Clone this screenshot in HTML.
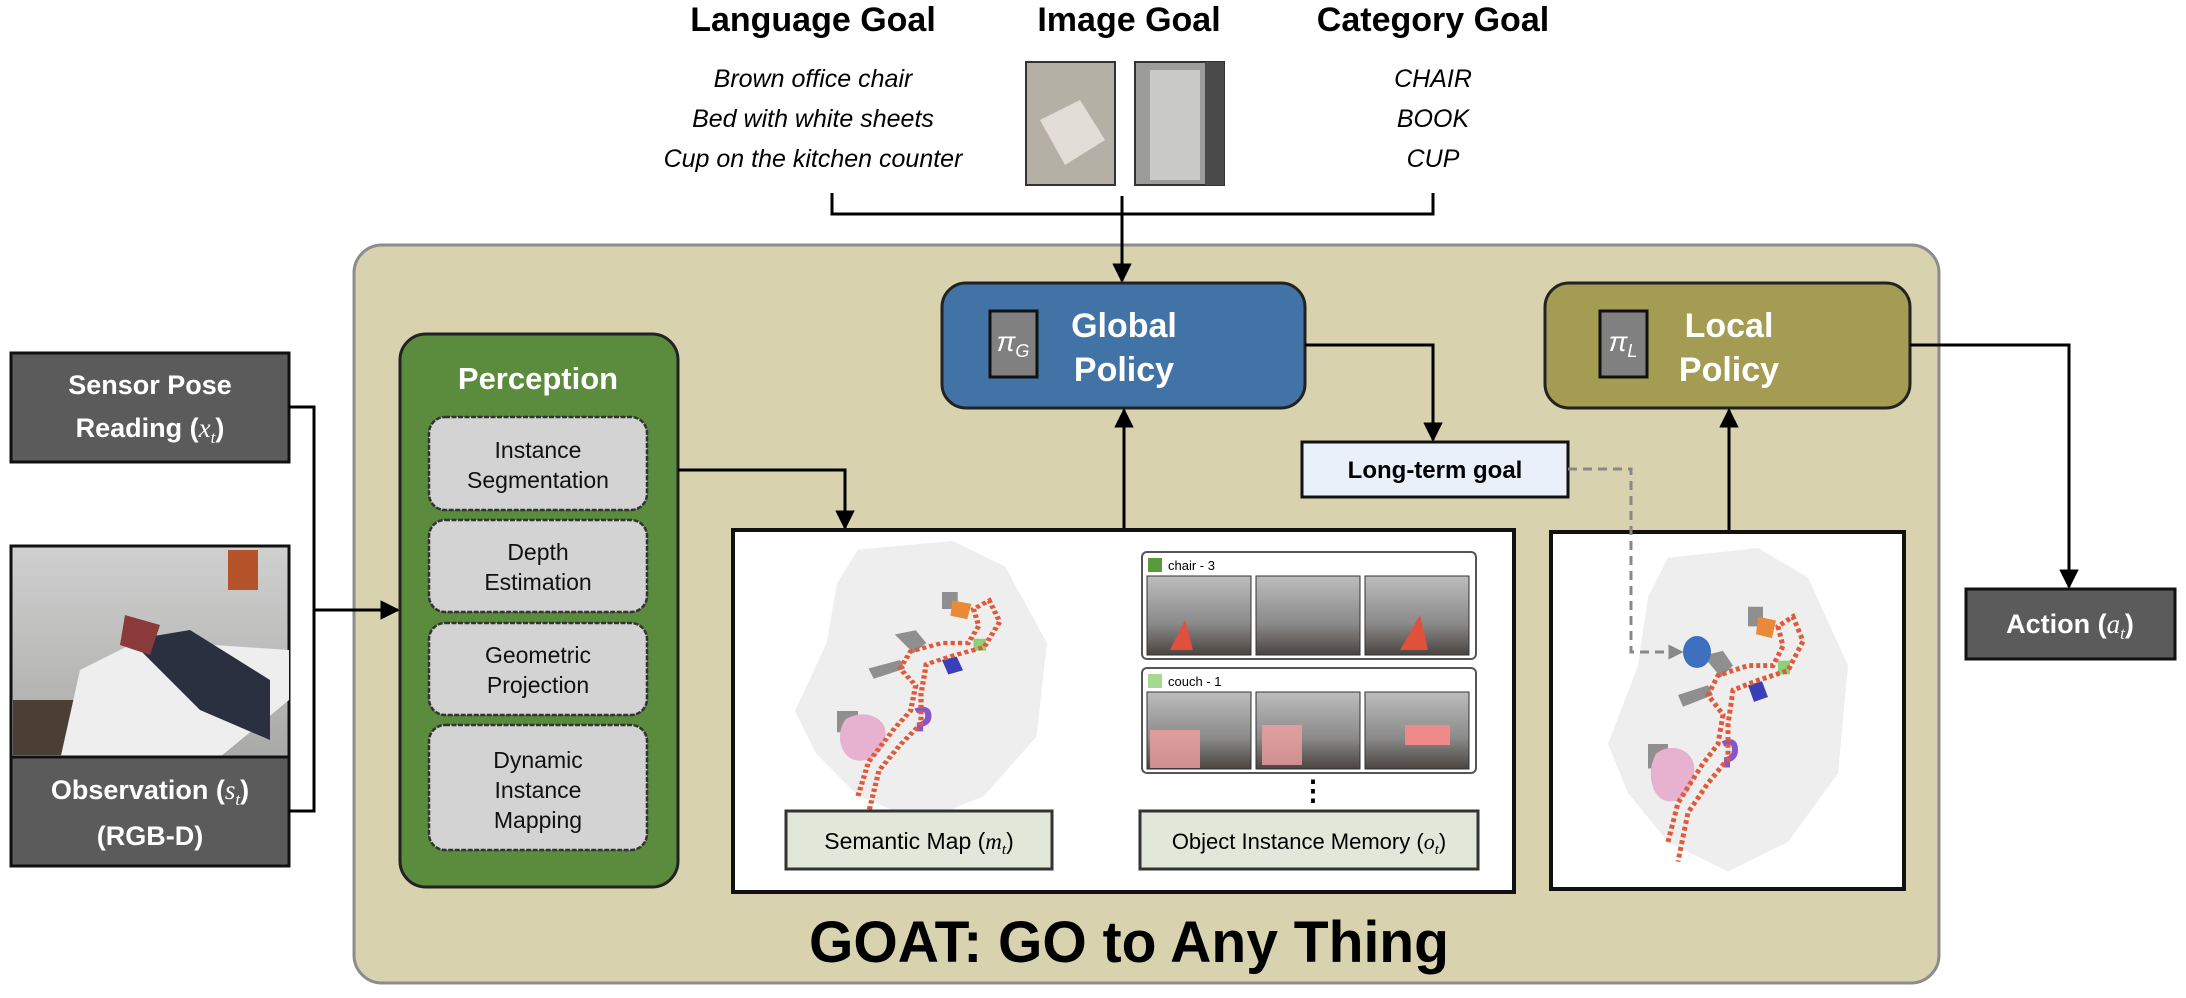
<!DOCTYPE html>
<html><head><meta charset="utf-8"><style>
html,body{margin:0;padding:0;background:#fff;}
svg{display:block;}
text{font-family:"Liberation Sans",Arial,sans-serif;}
</style></head><body>
<svg width="2186" height="998" viewBox="0 0 2186 998" xmlns="http://www.w3.org/2000/svg">
<defs>
<marker id="ah" viewBox="0 0 10 10" refX="9" refY="5" markerWidth="6.5" markerHeight="6.5" orient="auto"><path d="M0,0 L10,5 L0,10 z" fill="#000"/></marker>
<marker id="ahg" viewBox="0 0 10 10" refX="9" refY="5" markerWidth="5" markerHeight="5" orient="auto"><path d="M0,0 L10,5 L0,10 z" fill="#888"/></marker>
<linearGradient id="wall" x1="0" y1="0" x2="0" y2="1"><stop offset="0" stop-color="#cfd0cf"/><stop offset="1" stop-color="#a9aaa8"/></linearGradient>
<linearGradient id="room" x1="0" y1="0" x2="0" y2="1"><stop offset="0" stop-color="#bdbdbd"/><stop offset="0.6" stop-color="#8a8a8a"/><stop offset="1" stop-color="#4a4440"/></linearGradient>
<g id="map">
<path d="M60,10 L150,0 L200,30 L240,120 L230,230 L180,300 L120,330 L60,300 L20,250 L0,200 L30,120 L40,50 Z" fill="#eeeeee"/>
<path d="M95,110 l20,-5 l10,15 l-12,12 z M140,60 l15,0 l0,20 l-15,0z M40,200 l20,0 l0,25 l-20,0z M70,150 l30,-10 l5,10 l-30,12z" fill="#8f8f8f"/>
<path d="M150,70 l18,4 l-4,18 l-16,-4z" fill="#e88a3a"/>
<path d="M48,210 c15,-12 35,-5 38,12 c2,20 -10,40 -28,36 c-15,-4 -20,-30 -10,-48z" fill="#e7b2cf"/>
<path d="M140,140 l14,-4 l6,16 l-14,5z" fill="#3a3fb5"/>
<path d="M170,115 l12,0 l0,14 l-12,0z" fill="#8ed07a"/>
<path d="M115,200 q12,-6 12,6 q0,8 -8,10 l0,8" stroke="#8a55c8" stroke-width="6" fill="none"/>
<path d="M60,300 L70,260 L95,220 L110,200 L115,170 L100,150 L110,130 L140,120 L165,120 L175,100 L170,80 L185,70 L195,95 L180,125 L150,135 L125,145 L120,180 L120,215 L100,240 L80,270 L70,320" stroke="#e05a3a" stroke-width="5" stroke-dasharray="4 3" fill="none"/>
</g>
</defs>

<text x="813" y="31" font-size="34" font-weight="bold" text-anchor="middle">Language Goal</text>
<text x="1129" y="31" font-size="34" font-weight="bold" text-anchor="middle">Image Goal</text>
<text x="1433" y="31" font-size="34" font-weight="bold" text-anchor="middle">Category Goal</text>
<g font-size="25" font-style="italic" text-anchor="middle">
<text x="813" y="87">Brown office chair</text>
<text x="813" y="127">Bed with white sheets</text>
<text x="813" y="167">Cup on the kitchen counter</text>
<text x="1433" y="87">CHAIR</text>
<text x="1433" y="127">BOOK</text>
<text x="1433" y="167">CUP</text>
</g>
<rect x="1026" y="62" width="89" height="123" fill="#b5b0a6" stroke="#333" stroke-width="2"/>
<path d="M1040,120 l40,-20 l25,40 l-40,25z" fill="#e2ddd6"/>
<rect x="1135" y="62" width="89" height="123" fill="#9c9c9a" stroke="#333" stroke-width="2"/>
<rect x="1150" y="70" width="50" height="110" fill="#c9c9c7"/>
<rect x="1205" y="62" width="19" height="123" fill="#4a4a4a"/>

<path d="M832,193 L832,214 L1433,214 L1433,193" stroke="#000" stroke-width="3" fill="none"/>

<rect x="354" y="245" width="1585" height="738" rx="28" fill="#d8d3ae" stroke="#8c8c8c" stroke-width="3"/>
<line x1="1122" y1="196" x2="1122" y2="281" stroke="#000" stroke-width="3" marker-end="url(#ah)"/>

<rect x="11" y="353" width="278" height="109" fill="#5b5b5b" stroke="#111" stroke-width="3"/>
<text x="150" y="394" font-size="27" font-weight="bold" fill="#fff" text-anchor="middle">Sensor Pose</text>
<text x="150" y="437" font-size="27" font-weight="bold" fill="#fff" text-anchor="middle">Reading (<tspan font-family="Liberation Serif" font-style="italic" font-weight="normal">x<tspan font-size="17" dy="6">t</tspan></tspan><tspan dy="-6">)</tspan></text>
<rect x="11" y="546" width="278" height="211" fill="url(#wall)" stroke="#111" stroke-width="3"/>
<rect x="13" y="700" width="80" height="55" fill="#4a3e35"/>
<path d="M60,760 L80,670 L140,640 L289,650 L289,700 L220,757 Z" fill="#eeeeee"/>
<path d="M130,640 l60,-10 l80,50 l0,60 l-70,-30z" fill="#2a3040"/>
<path d="M125,615 l35,10 l-10,30 l-30,-10z" fill="#8a3a3a"/>
<rect x="228" y="550" width="30" height="40" fill="#b5542a"/>
<rect x="11" y="757" width="278" height="109" fill="#5b5b5b" stroke="#111" stroke-width="3"/>
<text x="150" y="799" font-size="27" font-weight="bold" fill="#fff" text-anchor="middle">Observation (<tspan font-family="Liberation Serif" font-style="italic" font-weight="normal">s<tspan font-size="17" dy="6">t</tspan></tspan><tspan dy="-6">)</tspan></text>
<text x="150" y="845" font-size="27" font-weight="bold" fill="#fff" text-anchor="middle">(RGB-D)</text>
<path d="M289,407 L314,407 L314,811 L289,811" stroke="#000" stroke-width="3" fill="none"/>
<line x1="314" y1="610" x2="398" y2="610" stroke="#000" stroke-width="3" marker-end="url(#ah)"/>

<rect x="400" y="334" width="278" height="553" rx="26" fill="#5b8b3d" stroke="#222" stroke-width="3"/>
<text x="538" y="389" font-size="31" font-weight="bold" fill="#fff" text-anchor="middle">Perception</text>
<g stroke="#333" stroke-width="2.5" stroke-dasharray="5 1.5" fill="#d3d3d3">
<rect x="429" y="417" width="218" height="93" rx="16"/>
<rect x="429" y="520" width="218" height="92" rx="16"/>
<rect x="429" y="623" width="218" height="92" rx="16"/>
<rect x="429" y="725" width="218" height="125" rx="16"/>
</g>
<g font-size="23" text-anchor="middle" fill="#111">
<text x="538" y="458">Instance</text><text x="538" y="488">Segmentation</text>
<text x="538" y="560">Depth</text><text x="538" y="590">Estimation</text>
<text x="538" y="663">Geometric</text><text x="538" y="693">Projection</text>
<text x="538" y="768">Dynamic</text><text x="538" y="798">Instance</text><text x="538" y="828">Mapping</text>
</g>

<rect x="942" y="283" width="363" height="125" rx="24" fill="#4173a6" stroke="#222" stroke-width="3"/>
<rect x="990" y="311" width="47" height="66" fill="#808080" stroke="#111" stroke-width="3"/>
<text x="1013" y="351" font-size="28" font-family="Liberation Serif" font-style="italic" fill="#fff" text-anchor="middle">π<tspan font-size="18" dy="6">G</tspan></text>
<text x="1124" y="337" font-size="34" font-weight="bold" fill="#fff" text-anchor="middle">Global</text>
<text x="1124" y="381" font-size="34" font-weight="bold" fill="#fff" text-anchor="middle">Policy</text>

<rect x="1545" y="283" width="365" height="125" rx="24" fill="#a49c52" stroke="#222" stroke-width="3"/>
<rect x="1600" y="311" width="47" height="66" fill="#808080" stroke="#111" stroke-width="3"/>
<text x="1623" y="351" font-size="28" font-family="Liberation Serif" font-style="italic" fill="#fff" text-anchor="middle">π<tspan font-size="18" dy="6">L</tspan></text>
<text x="1729" y="337" font-size="34" font-weight="bold" fill="#fff" text-anchor="middle">Local</text>
<text x="1729" y="381" font-size="34" font-weight="bold" fill="#fff" text-anchor="middle">Policy</text>

<path d="M678,470 L845,470 L845,528" stroke="#000" stroke-width="3" fill="none" marker-end="url(#ah)"/>
<line x1="1124" y1="530" x2="1124" y2="410" stroke="#000" stroke-width="3" marker-end="url(#ah)"/>
<path d="M1305,345 L1433,345 L1433,440" stroke="#000" stroke-width="3" fill="none" marker-end="url(#ah)"/>
<line x1="1729" y1="532" x2="1729" y2="410" stroke="#000" stroke-width="3" marker-end="url(#ah)"/>
<path d="M1910,345 L2069,345 L2069,587" stroke="#000" stroke-width="3" fill="none" marker-end="url(#ah)"/>

<rect x="1302" y="442" width="266" height="55" fill="#eaf0fa" stroke="#111" stroke-width="3"/>
<text x="1435" y="478" font-size="24" font-weight="bold" text-anchor="middle">Long-term goal</text>

<rect x="733" y="530" width="781" height="362" fill="#fff" stroke="#111" stroke-width="4"/>
<use href="#map" transform="translate(795,541) scale(1.05,0.85)"/>
<rect x="786" y="811" width="266" height="58" fill="#e1e8da" stroke="#333" stroke-width="3"/>
<text x="919" y="849" font-size="23" text-anchor="middle">Semantic Map (<tspan font-family="Liberation Serif" font-style="italic">m<tspan font-size="15" dy="5">t</tspan></tspan><tspan dy="-5">)</tspan></text>
<rect x="1140" y="811" width="338" height="58" fill="#e1e8da" stroke="#333" stroke-width="3"/>
<text x="1309" y="849" font-size="22" text-anchor="middle">Object Instance Memory (<tspan font-family="Liberation Serif" font-style="italic">o<tspan font-size="15" dy="5">t</tspan></tspan><tspan dy="-5">)</tspan></text>
<rect x="1142" y="552" width="334" height="107" rx="5" fill="#fff" stroke="#555" stroke-width="2"/>
<rect x="1148" y="558" width="14" height="14" fill="#5a9a3a"/>
<text x="1168" y="570" font-size="13">chair - 3</text>
<rect x="1147" y="576" width="104" height="79" fill="url(#room)" stroke="#333"/>
<rect x="1256" y="576" width="104" height="79" fill="url(#room)" stroke="#333"/>
<rect x="1365" y="576" width="104" height="79" fill="url(#room)" stroke="#333"/>
<path d="M1170,650 l15,-30 l8,30z M1400,650 l20,-35 l8,35z" fill="#e0503a"/>
<rect x="1142" y="668" width="334" height="105" rx="5" fill="#fff" stroke="#555" stroke-width="2"/>
<rect x="1148" y="674" width="14" height="14" fill="#a6d98e"/>
<text x="1168" y="686" font-size="13">couch - 1</text>
<rect x="1147" y="692" width="104" height="77" fill="url(#room)" stroke="#333"/>
<rect x="1256" y="692" width="104" height="77" fill="url(#room)" stroke="#333"/>
<rect x="1365" y="692" width="104" height="77" fill="url(#room)" stroke="#333"/>
<rect x="1150" y="730" width="50" height="38" fill="#f0a0a0" opacity="0.8"/>
<rect x="1262" y="725" width="40" height="40" fill="#f0a0a0" opacity="0.8"/>
<rect x="1405" y="725" width="45" height="20" fill="#f08a8a"/>
<text x="1313" y="800" font-size="28" font-weight="bold" text-anchor="middle">⋮</text>

<rect x="1551" y="532" width="353" height="357" fill="#fff" stroke="#111" stroke-width="4"/>
<use href="#map" transform="translate(1608,548) scale(1.0,0.98)"/>
<path d="M1568,469 L1631,469 L1631,652 L1682,652" stroke="#888" stroke-width="3" stroke-dasharray="9 6" fill="none" marker-end="url(#ahg)"/>
<ellipse cx="1697" cy="652" rx="14" ry="16" fill="#3f6fbf"/>

<rect x="1966" y="589" width="209" height="70" fill="#5b5b5b" stroke="#111" stroke-width="3"/>
<text x="2070" y="633" font-size="27" font-weight="bold" fill="#fff" text-anchor="middle">Action (<tspan font-family="Liberation Serif" font-style="italic" font-weight="normal">a<tspan font-size="17" dy="6">t</tspan></tspan><tspan dy="-6">)</tspan></text>

<text x="1129" y="962" font-size="58" font-weight="bold" text-anchor="middle" textLength="640" lengthAdjust="spacingAndGlyphs">GOAT: GO to Any Thing</text>
</svg>
</body></html>
